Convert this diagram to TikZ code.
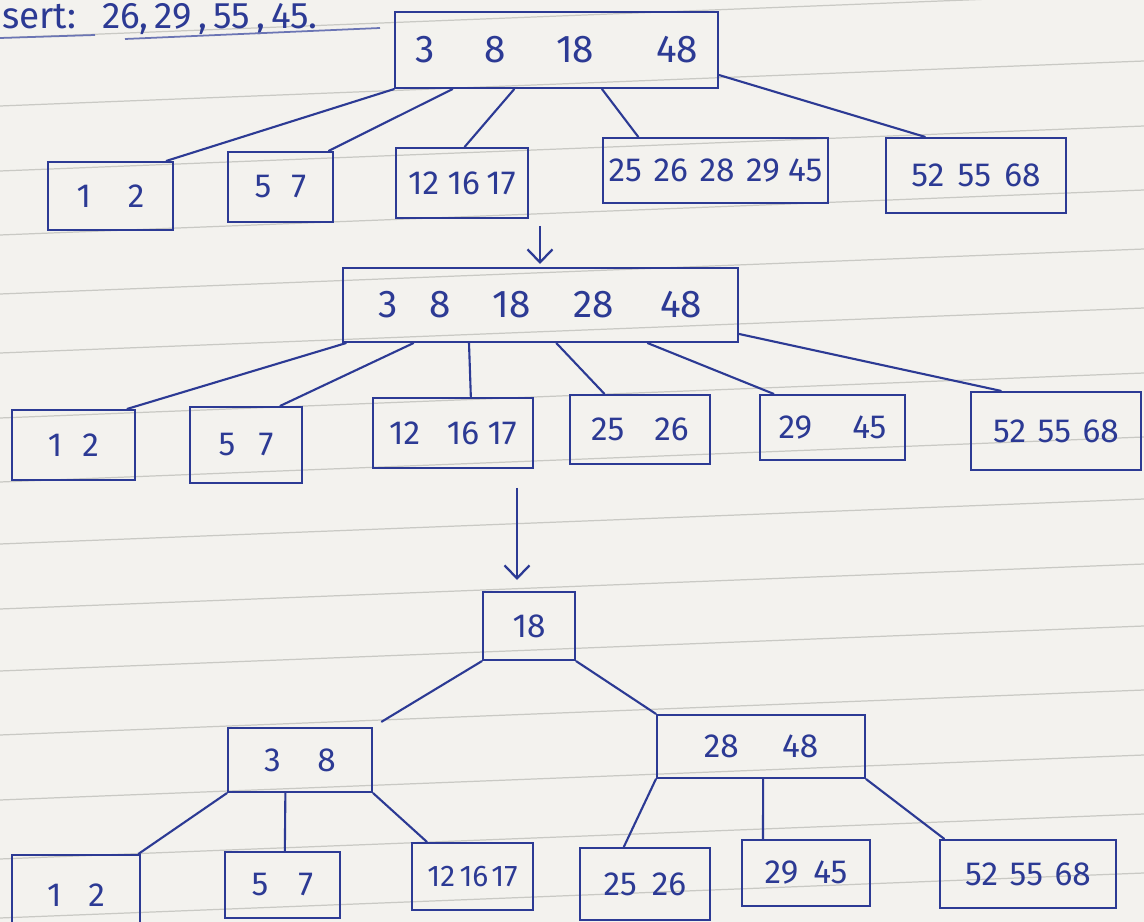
\documentclass[tikz,border=0pt]{standalone}
\usepackage{fontspec}
\setmainfont{Fira Sans}
\usetikzlibrary{calc,arrows.meta}
\definecolor{ink}{HTML}{2C3A94}
\definecolor{paper}{HTML}{F3F2EE}
\definecolor{rule}{HTML}{C9C9C4}
\tikzset{
  bx/.style={draw=ink, line width=1.3pt, text=ink, inner sep=0pt, font=\fontsize{19}{21}\selectfont},
  bigbx/.style={bx, font=\fontsize{22}{25}\selectfont},
  edge/.style={draw=ink, line width=1.2pt, line cap=round},
  ruleline/.style={draw=rule, line width=0.7pt},
  downarrow/.style={draw=ink, line width=1.3pt, -{Straight Barb[length=2.6mm,width=5mm,line width=1.3pt]}}
}
\begin{document}
\begin{tikzpicture}[x=0.02cm,y=-0.02cm]
\useasboundingbox (0,0) rectangle (1144,922);
\fill[paper] (0,0) rectangle (1144,922);
% ruled paper lines
\foreach \yy in {38,106,171,235,294,353,418,482,544,609,671,735,800,859,918,980}
  \draw[ruleline] (0,\yy) -- (1144,\yy-45);

% heading
\node[anchor=north west, inner sep=0pt, text=ink, font=\fontsize{21}{23}\selectfont] (hdr) at (2,3) {sert:\hspace{0.7em}26,\,29\,,\,55\,,\,45.};
\coordinate (u1) at (0,38); \coordinate (u2) at (95,35);
\coordinate (u3) at (125,39); \coordinate (u4) at (380,28);
\draw[draw=ink!70, line width=1pt] (u1) -- (u2);
\draw[draw=ink!70, line width=1pt] (u3) -- (u4);

% ---------------- Level 1 ----------------
\node[bigbx, minimum width=6.46cm, minimum height=1.52cm] (r1) at (556.5,50) {3\hspace{1.3em}8\hspace{1.3em}18\hspace{1.6em}48};
\node[bx, minimum width=2.5cm,  minimum height=1.36cm] (a1) at (110.5,196) {1\hspace{1.1em}2};
\node[bx, minimum width=2.1cm,  minimum height=1.4cm]  (a2) at (280.5,187) {5\hspace{0.6em}7};
\node[bx, minimum width=2.64cm, minimum height=1.4cm]  (a3) at (462,183) {12\hspace{0.25em}16\hspace{0.2em}17};
\node[bx, minimum width=4.5cm,  minimum height=1.3cm]  (a4) at (715.5,170.5) {25\hspace{0.35em}26\hspace{0.35em}28\hspace{0.35em}29\hspace{0.25em}45};
\node[bx, minimum width=3.6cm,  minimum height=1.5cm]  (a5) at (976,175.5) {52\hspace{0.4em}55\hspace{0.4em}68};

\draw[edge] (r1.south west) -- ($(a1.north west)!0.94!(a1.north east)$);
\draw[edge] ($(r1.south west)!0.18!(r1.south east)$) -- ($(a2.north west)!0.95!(a2.north east)$);
\draw[edge] ($(r1.south west)!0.37!(r1.south east)$) -- ($(a3.north west)!0.52!(a3.north east)$);
\draw[edge] ($(r1.south west)!0.64!(r1.south east)$) -- ($(a4.north west)!0.16!(a4.north east)$);
\draw[edge] ($(r1.north east)!0.82!(r1.south east)$) -- ($(a5.north west)!0.22!(a5.north east)$);

\coordinate (ar1s) at (540,226);
\coordinate (ar1e) at (540,264);
\draw[downarrow] (ar1s) -- (ar1e);

% ---------------- Level 2 ----------------
\node[bigbx, minimum width=7.9cm, minimum height=1.48cm] (r2) at (540.5,305) {3\hspace{0.8em}8\hspace{1.1em}18\hspace{1.1em}28\hspace{1.2em}48};
\node[bx, minimum width=2.46cm, minimum height=1.4cm]  (b1) at (73.5,445) {1\hspace{0.6em}2};
\node[bx, minimum width=2.24cm, minimum height=1.52cm] (b2) at (246,445) {5\hspace{0.7em}7};
\node[bx, minimum width=3.2cm,  minimum height=1.4cm]  (b3) at (453,433) {12\hspace{0.8em}16\hspace{0.25em}17};
\node[bx, minimum width=2.8cm,  minimum height=1.38cm] (b4) at (640,429.5) {25\hspace{0.9em}26};
\node[bx, minimum width=2.9cm,  minimum height=1.3cm]  (b5) at (832.5,427.5) {29\hspace{1.2em}45};
\node[bx, minimum width=3.4cm,  minimum height=1.56cm] (b6) at (1056,431) {52\hspace{0.35em}55\hspace{0.35em}68};

\draw[edge] ($(r2.south west)!0.01!(r2.south east)$) -- ($(b1.north west)!0.93!(b1.north east)$);
\draw[edge] ($(r2.south west)!0.18!(r2.south east)$) -- ($(b2.north west)!0.80!(b2.north east)$);
\draw[edge] ($(r2.south west)!0.32!(r2.south east)$) -- ($(b3.north west)!0.61!(b3.north east)$);
\draw[edge] ($(r2.south west)!0.54!(r2.south east)$) -- ($(b4.north west)!0.25!(b4.north east)$);
\draw[edge] ($(r2.south west)!0.77!(r2.south east)$) -- ($(b5.north west)!0.10!(b5.north east)$);
\draw[edge] ($(r2.north east)!0.88!(r2.south east)$) -- ($(b6.north west)!0.18!(b6.north east)$);

\coordinate (ar2s) at (517,488);
\coordinate (ar2e) at (517,580);
\draw[downarrow] (ar2s) -- (ar2e);

% ---------------- Level 3 ----------------
\node[bx, minimum width=1.84cm, minimum height=1.36cm] (r3) at (529,626) {18};
\node[bx, minimum width=2.88cm, minimum height=1.28cm] (c1) at (300,760) {3\hspace{1.1em}8};
\node[bx, minimum width=4.16cm, minimum height=1.26cm] (c2) at (761,746.5) {28\hspace{1.3em}48};

\draw[edge, shorten >=0.2cm] (r3.south west) -- (c1.north east);
\draw[edge] (r3.south east) -- (c2.north west);

\node[bx, minimum width=2.56cm, minimum height=1.6cm]  (d1) at (76,895) {1\hspace{0.8em}2};
\node[bx, minimum width=2.3cm,  minimum height=1.32cm] (d2) at (282.5,885) {5\hspace{0.9em}7};
\node[bx, minimum width=2.42cm, minimum height=1.34cm, font=\fontsize{17}{19}\selectfont] (d3) at (472.5,876.5) {12\hspace{0.15em}16\hspace{0.1em}17};
\node[bx, minimum width=2.6cm,  minimum height=1.44cm] (d4) at (645,884) {25\hspace{0.45em}26};
\node[bx, minimum width=2.56cm, minimum height=1.32cm] (d5) at (806,873) {29\hspace{0.45em}45};
\node[bx, minimum width=3.52cm, minimum height=1.36cm] (d6) at (1028,874) {52\hspace{0.35em}55\hspace{0.35em}68};

\draw[edge] (c1.south west) -- ($(d1.north west)!0.98!(d1.north east)$);
\draw[edge] ($(c1.south west)!0.40!(c1.south east)$) -- ($(d2.north west)!0.52!(d2.north east)$);
\draw[edge] (c1.south east) -- ($(d3.north west)!0.13!(d3.north east)$);
\draw[edge] (c2.south west) -- ($(d4.north west)!0.34!(d4.north east)$);
\draw[edge] ($(c2.south west)!0.51!(c2.south east)$) -- ($(d5.north west)!0.17!(d5.north east)$);
\draw[edge] (c2.south east) -- ($(d6.north west)!0.03!(d6.north east)$);
\end{tikzpicture}
\end{document}
